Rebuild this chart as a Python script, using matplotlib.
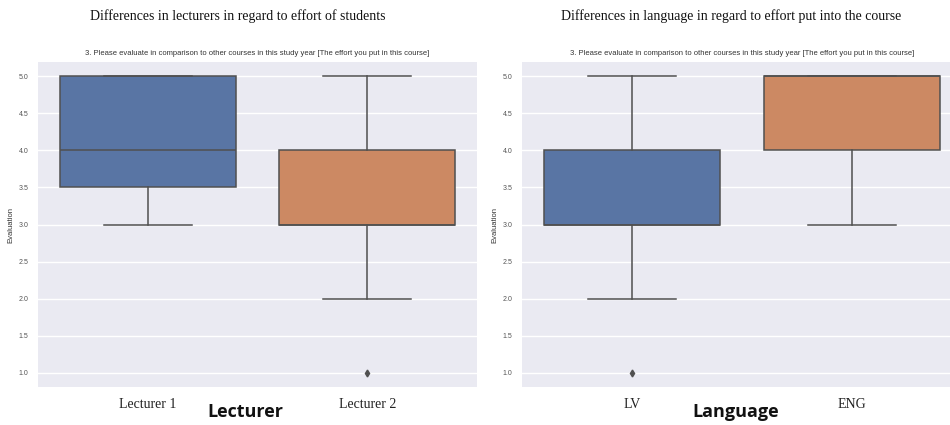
import matplotlib
matplotlib.use("Agg")
import matplotlib.pyplot as plt

# box statistics per group, read as evaluation scores (1-5)
lecturers = ["Lecturer 1", "Lecturer 2"]
lect_q1 = [3.5, 3.0]
lect_med = [4.0, 3.0]
lect_q3 = [5.0, 4.0]
lect_lo = [3.0, 2.0]
lect_hi = [5.0, 5.0]
lect_fliers = [[], [1.0]]

languages = ["LV", "ENG"]
lang_q1 = [3.0, 4.0]
lang_med = [3.0, 5.0]
lang_q3 = [4.0, 5.0]
lang_lo = [2.0, 3.0]
lang_hi = [5.0, 5.0]
lang_fliers = [[1.0], []]

yticks = [1.0, 1.5, 2.0, 2.5, 3.0, 3.5, 4.0, 4.5, 5.0]
colors = ["#5975a4", "#cc8963"]
line_c = "#505050"
question = "3. Please evaluate in comparison to other courses in this study year [The effort you put in this course]"

fig = plt.figure(figsize=(9.5, 4.25), dpi=100)
fig.patch.set_facecolor("white")


def panel(rect, names, q1, med, q3, lo, hi, fliers, title, xname, title_x, xname_x):
    ax = fig.add_axes(rect)
    ax.set_facecolor("#eaeaf2")
    stats = []
    for i in range(len(names)):
        stats.append(dict(q1=q1[i], med=med[i], q3=q3[i], whislo=lo[i],
                          whishi=hi[i], fliers=fliers[i], label=names[i]))
    bp = ax.bxp(stats, positions=range(len(names)), widths=0.8, patch_artist=True,
                boxprops=dict(edgecolor=line_c, linewidth=1.1),
                medianprops=dict(color=line_c, linewidth=1.1),
                whiskerprops=dict(color=line_c, linewidth=1.1),
                capprops=dict(color=line_c, linewidth=1.1),
                capwidths=0.4,
                flierprops=dict(marker="d", markersize=3.5, markerfacecolor=line_c,
                                markeredgecolor=line_c))
    for patch, c in zip(bp["boxes"], colors):
        patch.set_facecolor(c)
    ax.set_xlim(-0.5, len(names) - 0.5)
    ax.set_ylim(0.81, 5.19)
    ax.set_yticks(yticks)
    ax.set_yticklabels([f"{v:.1f}" for v in yticks], fontsize=5,
                       fontfamily="Liberation Sans", color="#555555")
    ax.set_xticks(range(len(names)))
    ax.set_xticklabels(names, fontfamily="Liberation Serif", fontsize=10, color="#222222")
    ax.tick_params(axis="both", length=0)
    ax.tick_params(axis="x", pad=8)
    ax.tick_params(axis="y", pad=7)
    ax.grid(axis="y", color="white", linewidth=1.0)
    ax.set_axisbelow(True)
    for s in ax.spines.values():
        s.set_visible(False)
    ax.set_ylabel("Evaluation", fontsize=5.5, fontfamily="Liberation Sans",
                  color="#333333", labelpad=3)
    ax.set_title(question, fontsize=5.5, fontfamily="Liberation Sans", color="#333333", pad=5)
    fig.text(title_x, 1 - 16 / 425, title, fontfamily="Liberation Serif", fontsize=10,
             ha="center", va="center", color="#111111")
    fig.text(xname_x, 1 - 412 / 425, xname, fontfamily="Open Sans", fontweight="bold",
             fontsize=13, ha="center", va="center", color="#111111")
    return ax


panel([38 / 950, 38 / 425, 439 / 950, 325 / 425], lecturers, lect_q1, lect_med, lect_q3,
      lect_lo, lect_hi, lect_fliers,
      "Differences in lecturers in regard to effort of students", "Lecturer",
      238 / 950, 245 / 950)
panel([522 / 950, 38 / 425, 440 / 950, 325 / 425], languages, lang_q1, lang_med, lang_q3,
      lang_lo, lang_hi, lang_fliers,
      "Differences in language in regard to effort put into the course", "Language",
      731 / 950, 736 / 950)

fig.savefig("out.png", dpi=100)
